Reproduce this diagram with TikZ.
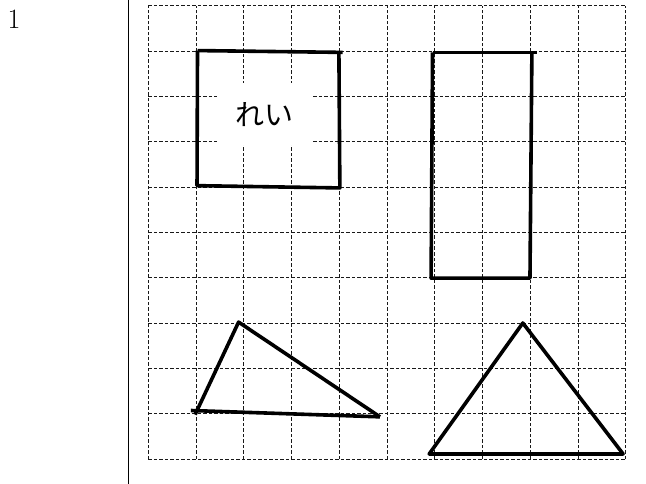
\documentclass[tikz,border=0pt]{standalone}
\usepackage{fontspec}
\newfontfamily\jpfont{Noto Sans CJK JP}
\usepackage{xcolor}
\usepackage{tikz}

\begin{document}
\begin{tikzpicture}[x=1pt,y=-1pt,
  gridline/.style={line width=1pt, dash pattern=on 3.5pt off 2pt, black!90},
  shapeline/.style={line width=3.6pt, line join=round}]
\useasboundingbox (0,0) rectangle (646,484);
\node[inner sep=0pt, anchor=base] (num) at (14,29) {\fontsize{28}{30}\selectfont 1};
\draw[line width=1pt] (128.3,0) -- (128.3,484);
\begin{scope}[shift={(148.3,459)}, x=47.77pt, y=45.33pt]
\draw[gridline] (0,0) grid[step=1] (10,10);
\node[fill=white, inner sep=0pt, minimum width=96pt, minimum height=62pt] (rei) at (2.44,7.6) {\jpfont\fontsize{29}{32}\selectfont れい};
% square
\draw[shapeline] (1.03,9.01) -- (4.07,8.97);
\draw[shapeline] (1.03,9.01) -- (1.02,6.03) -- (4.01,5.98) -- (3.99,8.98);
% rectangle
\draw[shapeline] (5.95,8.97) -- (8.13,8.97);
\draw[shapeline] (5.95,8.97) -- (5.92,3.99) -- (7.99,3.99) -- (8.03,8.97);
% triangles
\draw[shapeline] (0.89,1.07) -- (4.85,0.93);
\draw[shapeline] (0.98,0.98) -- (1.89,3.02) -- (4.85,0.93);
\draw[shapeline] (5.88,0.11) -- (7.84,3.0) -- (9.94,0.11) -- cycle;
\end{scope}
\end{tikzpicture}
\end{document}
